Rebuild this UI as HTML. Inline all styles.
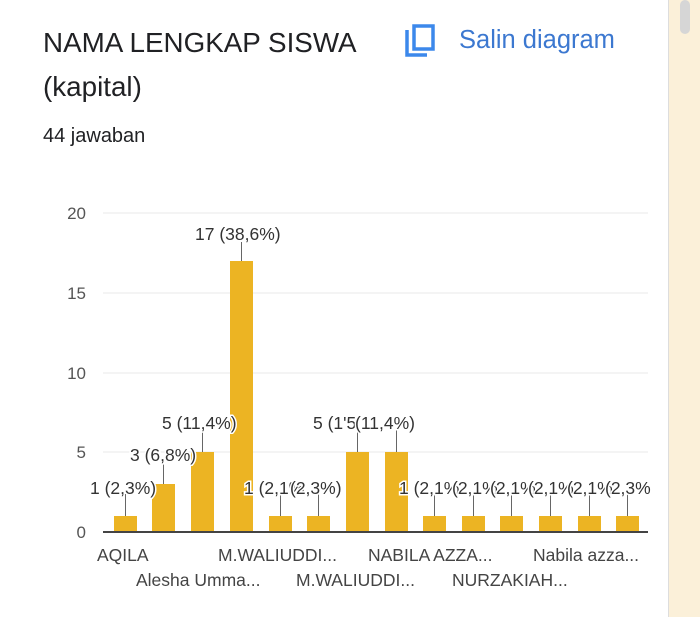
<!DOCTYPE html>
<html><head><meta charset="utf-8"><style>
body{margin:0;width:700px;height:617px;overflow:hidden;background:#fff;font-family:"Liberation Sans",Roboto,sans-serif;position:relative}
.t{position:absolute;white-space:nowrap}
</style></head><body>
<div class="t" style="left:43px;top:27px;font-size:27.8px;color:#202124">NAMA LENGKAP SISWA</div>
<div class="t" style="left:43px;top:71px;font-size:27.8px;color:#202124">(kapital)</div>
<div class="t" style="left:43px;top:125px;font-size:20px;color:#202124">44 jawaban</div>
<svg class="t" style="left:404px;top:24px" width="36" height="36" viewBox="0 0 36 36"><path d="M3 6v25h20" fill="none" stroke="#1a73e8" stroke-width="3.5" opacity=".85"/><rect x="10" y="2" width="19" height="23" fill="none" stroke="#1a73e8" stroke-width="3.5" opacity=".85"/></svg>
<div class="t" style="left:459px;top:26px;font-size:25.5px;color:#3c78d0">Salin diagram</div>
<div style="position:absolute;left:668px;top:0;width:1px;height:617px;background:#ddd"></div>
<div style="position:absolute;left:669px;top:0;width:31px;height:617px;background:#fbf0d9"></div>
<div style="position:absolute;left:680px;top:0;width:10px;height:34px;background:#d6d6d6;border-radius:5px"></div>
<svg style="position:absolute;left:0;top:0" width="668" height="617" font-family="Liberation Sans, sans-serif">
<g stroke="#e8e8e8" stroke-width="1">
<line x1="103" x2="648" y1="213" y2="213"/><line x1="103" x2="648" y1="293" y2="293"/><line x1="103" x2="648" y1="373" y2="373"/><line x1="103" x2="648" y1="452" y2="452"/></g>
<g font-size="17" fill="#555" text-anchor="end">
<text x="86" y="219">20</text><text x="86" y="299">15</text><text x="86" y="379">10</text><text x="86" y="458">5</text><text x="86" y="538">0</text></g>
<g fill="#ecb423">
<rect x="114" y="516" width="23" height="16"/>
<rect x="152" y="484" width="23" height="48"/>
<rect x="191" y="452" width="23" height="80"/>
<rect x="230" y="261" width="23" height="271"/>
<rect x="269" y="516" width="23" height="16"/>
<rect x="307" y="516" width="23" height="16"/>
<rect x="346" y="452" width="23" height="80"/>
<rect x="385" y="452" width="23" height="80"/>
<rect x="423" y="516" width="23" height="16"/>
<rect x="462" y="516" width="23" height="16"/>
<rect x="500" y="516" width="23" height="16"/>
<rect x="539" y="516" width="23" height="16"/>
<rect x="578" y="516" width="23" height="16"/>
<rect x="616" y="516" width="23" height="16"/>
</g>
<line x1="103" x2="648" y1="532" y2="532" stroke="#444" stroke-width="2"/>
<g stroke="#666" stroke-width="1">
<line x1="125.5" x2="125.5" y1="516" y2="494"/><line x1="163.5" x2="163.5" y1="484" y2="461"/><line x1="202.5" x2="202.5" y1="452" y2="430"/><line x1="241.5" x2="241.5" y1="261" y2="242"/>
<line x1="280.5" x2="280.5" y1="516" y2="494"/><line x1="318.5" x2="318.5" y1="516" y2="494"/><line x1="357.5" x2="357.5" y1="452" y2="430"/><line x1="396.5" x2="396.5" y1="452" y2="430"/>
<line x1="434.5" x2="434.5" y1="516" y2="494"/><line x1="473.5" x2="473.5" y1="516" y2="494"/><line x1="511.5" x2="511.5" y1="516" y2="494"/><line x1="550.5" x2="550.5" y1="516" y2="494"/><line x1="589.5" x2="589.5" y1="516" y2="494"/><line x1="627.5" x2="627.5" y1="516" y2="494"/></g>
<g font-size="17.5" fill="#333" stroke="#fff" stroke-width="3" paint-order="stroke">
<text x="90" y="494">1 (2,3%)</text>
<text x="130" y="461">3 (6,8%)</text>
<text x="162" y="429">5 (11,4%)</text>
<text x="195" y="240">17 (38,6%)</text>
<text x="244" y="494">1 (2,1%</text>
<text x="290" y="494">(2,3%)</text>
<text x="313" y="429">5 (1'5</text>
<text x="355" y="429">(11,4%)</text>
<text x="399" y="494">1 (2,1%</text>
<text x="452" y="494">(2,1%</text>
<text x="490" y="494">(2,1%</text>
<text x="528" y="494">(2,1%</text>
<text x="567" y="494">(2,1%</text>
<text x="605" y="494">(2,3%</text>
</g>
<g font-size="17.5" fill="#444">
<text x="97" y="561">AQILA</text>
<text x="218" y="561">M.WALIUDDI...</text>
<text x="368" y="561">NABILA AZZA...</text>
<text x="533" y="561">Nabila azza...</text>
<text x="136" y="586">Alesha Umma...</text>
<text x="296" y="586">M.WALIUDDI...</text>
<text x="452" y="586">NURZAKIAH...</text>
</g>
</svg>
</body></html>
